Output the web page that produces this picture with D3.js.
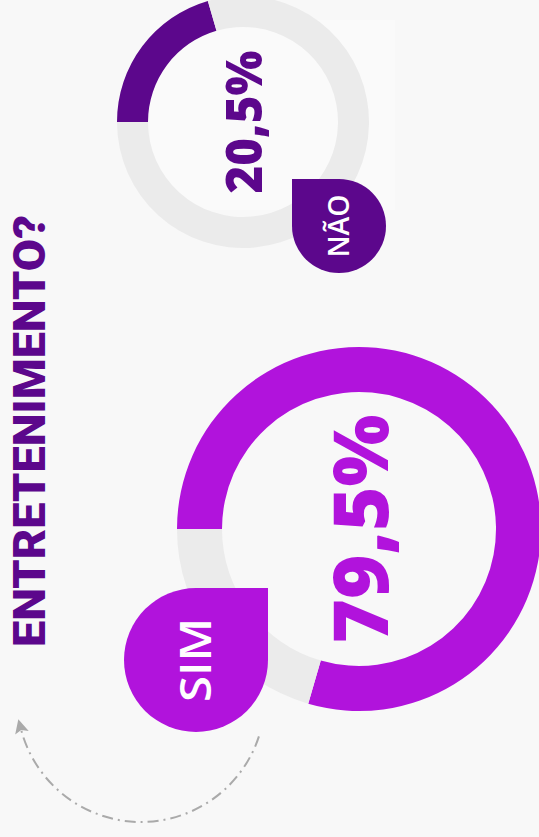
<!DOCTYPE html>
<html lang="pt">
<head>
  <meta charset="utf-8" />
  <title>Entretenimento?</title>
  <style>
    html, body { margin: 0; padding: 0; background: #f8f8f8; }
    svg { display: block; }
  </style>
  <script src="https://d3js.org/d3.v7.min.js"></script>
</head>
<body>
<script>

// data
const title      = "ENTRETENIMENTO?";
const categories = ["SIM", "NÃO"];
const values     = [79.5, 20.5];
const colors     = ["#b113dc", "#5c078c"];

const W = 539, H = 837;
const track = "#ebebeb";
const font  = "'Open Sans', 'Noto Sans', sans-serif";

const pt = d3.formatLocale({decimal: ",", thousands: ".", grouping: [3], currency: ["R$", ""]});
const pct = d => pt.format(".1f")(d) + "%";

const svg = d3.select("body").append("svg")
  .attr("width", W)
  .attr("height", H);

svg.append("rect").attr("width", W).attr("height", H).attr("fill", "#f8f8f8");
// faint panel behind the small ring
svg.append("rect").attr("x", 150).attr("y", 20).attr("width", 245).attr("height", 190)
  .attr("fill", "#fafafa");

// one ring per answer (the whole graphic is turned 90deg to the left)
const rings = [
  {i: 0, cx: 359, cy: 529, outer: 182, inner: 137,
   font: 77, len: 229, base: 29, tag: {size: 144, dx: -91, dy: 59, sharp: "tr", font: 43, len: 84}},
  {i: 1, cx: 243, cy: 122, outer: 126, inner: 95,
   font: 49, len: 143, base: 19, tag: {size: 94, dx: 49, dy: 57, sharp: "tl", font: 29, len: 63}}
];

const pie = d3.pie().sort(null)
  .startAngle(-Math.PI / 2)
  .endAngle(Math.PI * 1.5);

// drop shaped tag: a circle with one square corner
function drop(x, y, s, sharp) {
  const r = s / 2;
  const p = d3.path();
  const tl = sharp === "tl" ? 0 : r, tr = sharp === "tr" ? 0 : r;
  p.moveTo(x + tl, y);
  p.lineTo(x + s - tr, y);
  if (tr) p.arcTo(x + s, y, x + s, y + r, r); 
  p.lineTo(x + s, y + s - r);
  p.arcTo(x + s, y + s, x + s - r, y + s, r);
  p.lineTo(x + r, y + s);
  p.arcTo(x, y + s, x, y + s - r, r);
  p.lineTo(x, y + tl);
  if (tl) p.arcTo(x, y, x + tl, y, r);
  p.closePath();
  return p.toString();
}

rings.forEach(R => {
  const g = svg.append("g").attr("transform", `translate(${R.cx},${R.cy})`);
  const arc = d3.arc().innerRadius(R.inner).outerRadius(R.outer);
  const v = values[R.i];

  g.selectAll("path")
    .data(pie([v, 100 - v]))
    .join("path")
      .attr("d", arc)
      .attr("fill", (d, j) => j === 0 ? colors[R.i] : track);

  g.append("text")
    .attr("transform", `translate(${R.base},0) rotate(-90)`)
    .attr("text-anchor", "middle")
    .attr("font-family", font)
    .attr("font-weight", 800)
    .attr("font-size", R.font)
    .attr("textLength", R.len)
    .attr("lengthAdjust", "spacingAndGlyphs")
    .attr("fill", colors[R.i])
    .text(pct(v));

  const t = R.tag;
  const x0 = t.sharp === "tr" ? t.dx - t.size : t.dx;
  g.append("path")
    .attr("d", drop(x0, t.dy, t.size, t.sharp))
    .attr("fill", colors[R.i]);

  g.append("text")
    .attr("transform", `translate(${x0 + t.size / 2 + t.font * 0.36},${t.dy + t.size / 2}) rotate(-90)`)
    .attr("text-anchor", "middle")
    .attr("font-family", font)
    .attr("font-weight", 600)
    .attr("font-size", t.font)
    .attr("textLength", t.len)
    .attr("lengthAdjust", "spacingAndGlyphs")
    .attr("fill", "#ffffff")
    .text(categories[R.i]);
});

// title
svg.append("text")
  .attr("transform", "translate(45,431) rotate(-90)")
  .attr("text-anchor", "middle")
  .attr("font-family", "Roboto, 'Open Sans', sans-serif")
  .attr("font-weight", 900)
  .attr("font-size", 44)
  .attr("textLength", 432)
  .attr("lengthAdjust", "spacingAndGlyphs")
  .attr("fill", colors[1])
  .text(title);

// dash-dot turning arrow
svg.append("defs").append("marker")
  .attr("id", "head")
  .attr("viewBox", "0 0 10 10")
  .attr("refX", 2).attr("refY", 5)
  .attr("markerWidth", 7).attr("markerHeight", 7)
  .attr("orient", "auto")
  .append("path")
    .attr("d", "M0,0L10,5L0,10L2,5Z")
    .attr("fill", "#aaaaaa");

const toRad = d => d * Math.PI / 180;
const turn = d3.path();
turn.arc(141, 698, 124, toRad(108 - 90), toRad(255 - 90));
svg.append("path")
  .attr("d", turn.toString())
  .attr("fill", "none")
  .attr("stroke", "#aaaaaa")
  .attr("stroke-width", 2)
  .attr("stroke-dasharray", "11,5,2,5")
  .attr("marker-end", "url(#head)");

</script>
</body>
</html>
